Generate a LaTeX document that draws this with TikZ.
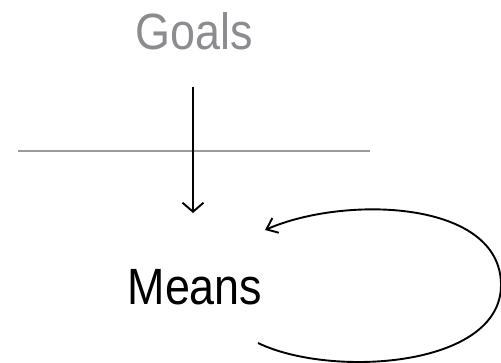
\documentclass[tikz,border=0pt]{standalone}
\usepackage{fontspec}
\setmainfont{Liberation Sans}[FakeStretch=0.88]
\usetikzlibrary{arrows.meta,positioning}
\definecolor{goalgray}{HTML}{8C8C90}
\definecolor{rulegray}{HTML}{9A9A9A}
\tikzset{
  word/.style={font=\fontsize{51}{51}\selectfont, inner sep=0pt, anchor=base},
  flow/.style={-{Straight Barb[length=9pt,width=21pt,line width=1.9pt]}, line width=1.9pt, black},
  loopflow/.style={-{Straight Barb[length=10pt,width=16pt,line width=1.9pt]}, line width=1.9pt, black},
  divider/.style={line width=2.4pt, color=rulegray},
}
\begin{document}
\begin{tikzpicture}[x=1pt,y=-1pt]
  \useasboundingbox (0,0) rectangle (501,363);
  % the two words
  \node[word, text=goalgray] (goals) at (194,50) {Goals};
  \node[word, text=black] (means) at (195,305) {Means};
  % dividing line
  \coordinate (divL) at (18,151);
  \coordinate (divR) at (370,151);
  \draw[divider] (divL) -- (divR);
  % goals down to means
  \coordinate (dropTop) at (193,87);
  \coordinate (dropTip) at (193,213);
  \draw[flow] (dropTop) -- (dropTip);
  % means feeding back on itself
  \coordinate (loopStart) at (258,343);
  \coordinate (loopEast) at (501,285);
  \coordinate (loopEnd) at (265,230);
  \draw[loopflow] (loopStart) .. controls (330,378) and (501,368) .. (loopEast)
    .. controls (501,200) and (345,195) .. (loopEnd);
\end{tikzpicture}
\end{document}
